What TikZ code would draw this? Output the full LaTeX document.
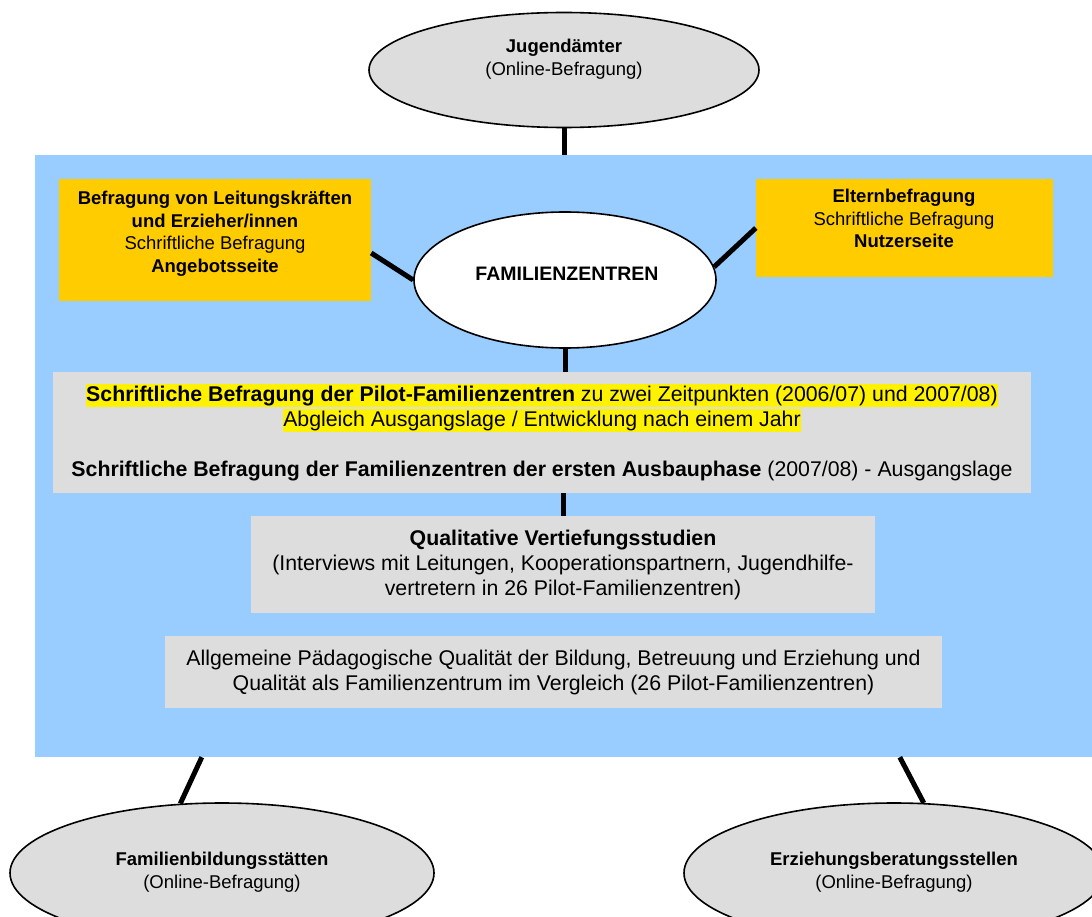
\documentclass[tikz,border=0pt]{standalone}
\usepackage{fontspec}
\setmainfont{Liberation Sans}
\usetikzlibrary{shapes.geometric,calc}
\definecolor{bgblue}{HTML}{99CCFF}
\definecolor{boxgray}{HTML}{DDDDDD}
\definecolor{orng}{HTML}{FFCC00}
\newcommand{\hlt}[1]{{\setlength{\fboxsep}{0pt}\colorbox{yellow}{\rule[-5pt]{0pt}{23pt}#1}}}

\tikzset{
  oval/.style={ellipse, draw, line width=1.6pt, fill=boxgray, inner sep=0pt},
  small/.style={font=\fontsize{18.5}{22.5}\selectfont, align=center},
  big/.style={font=\fontsize{21.3}{25}\selectfont, align=center},
  link/.style={line width=5pt},
  graybox/.style={fill=boxgray, inner sep=0pt},
  orangebox/.style={fill=orng, inner sep=0pt}
}

\begin{document}
\begin{tikzpicture}[x=1pt, y=-1pt]
\clip (0,0) rectangle (1092,917);
\fill[white] (0,0) rectangle (1092,917);

\node[fill=bgblue, inner sep=0pt, minimum width=1057pt, minimum height=602pt] (bg) at (563.5,456) {};

% top
\node[oval, minimum width=390pt, minimum height=115pt] (ju) at (564,70) {};
\node[small] (ju-t) at (564,59) {\textbf{Jugendämter}\\(Online-Befragung)};
\draw[link] (ju.south) -- (ju.south |- bg.north);

% centre
\node[oval, fill=white, minimum width=302pt, minimum height=136pt] (fz) at (565,280) {};
\node[font=\bfseries\fontsize{19.5}{22}\selectfont] (fz-t) at (567,274) {FAMILIENZENTREN};

\node[orangebox, minimum width=312pt, minimum height=122pt] (lb) at (215,240) {};
\node[small] (lb-t) at (215,234) {\textbf{Befragung von Leitungskräften}\\\textbf{und Erzieher/innen}\\Schriftliche Befragung\\\textbf{Angebotsseite}};
\node[orangebox, minimum width=297pt, minimum height=98pt] (rb) at (904.5,228) {};
\node[small] (rb-t) at (904,218.5) {\textbf{Elternbefragung}\\Schriftliche Befragung\\\textbf{Nutzerseite}};

\draw[link] ($(lb.east)+(0,13)$) -- (fz.west);
\draw[link] (fz.5) -- (rb.west);

% boxes
\node[graybox, big, minimum width=978pt, minimum height=121pt] (pb) at (542,432.5)
  {\hlt{\textbf{Schriftliche Befragung der Pilot-Familienzentren} zu zwei Zeitpunkten (2006/07) und 2007/08)}\\
   \hlt{Abgleich Ausgangslage / Entwicklung nach einem Jahr}\\[25pt]
   \textbf{Schriftliche Befragung der Familienzentren der ersten Ausbauphase} (2007/08) - Ausgangslage};
\node[graybox, big, minimum width=624pt, minimum height=97pt] (qs) at (563,564.5)
  {\textbf{Qualitative Vertiefungsstudien}\\(Interviews mit Leitungen, Kooperationspartnern, Jugendhilfe-\\vertretern in 26 Pilot-Familienzentren)};
\node[graybox, big, minimum width=777pt, minimum height=72pt] (pq) at (553.5,672)
  {Allgemeine Pädagogische Qualität der Bildung, Betreuung und Erziehung und\\Qualität als Familienzentrum im Vergleich (26 Pilot-Familienzentren)};

\draw[link] (fz.south) -- (fz.south |- pb.north);
\draw[link] (qs.north |- pb.south) -- (qs.north);

% bottom
\node[oval, minimum width=424pt, minimum height=140pt] (fb) at (222,873) {};
\node[small] (fb-t) at (222,872) {\textbf{Familienbildungsstätten}\\(Online-Befragung)};
\node[oval, minimum width=420pt, minimum height=140pt] (eb) at (894,873) {};
\node[small] (eb-t) at (894,872) {\textbf{Erziehungsberatungsstellen}\\(Online-Befragung)};

\draw[link] ($(bg.south west)+(167,0)$) -- (fb.121);
\draw[link] ($(bg.south west)+(865,0)$) -- (eb.67);
\end{tikzpicture}
\end{document}
